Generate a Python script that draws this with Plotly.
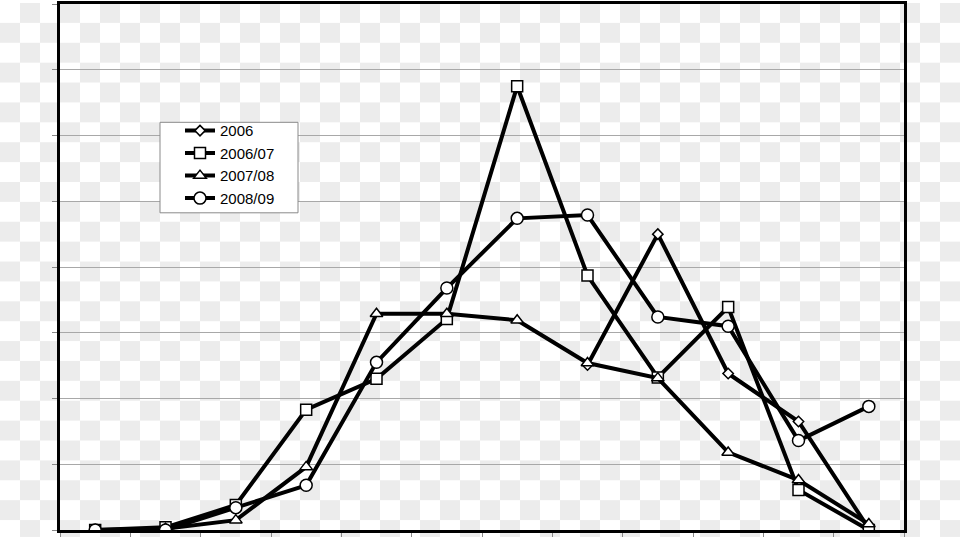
import base64
import plotly.graph_objects as go

# ---- data ----
periods = ["1", "2", "3", "4", "5", "6", "7", "8", "9", "10", "11", "12"]
s2006 = [None, None, None, None, None, None, None, 2.51, 4.50, 2.38, 1.65, 0.02]
s2006_07 = [0.0, 0.04, 0.38, 1.83, 2.30, 3.21, 6.75, 3.87, 2.32, 3.39, 0.61, 0.0]
s2007_08 = [0.0, 0.02, 0.15, 0.96, 3.29, 3.29, 3.19, 2.54, 2.31, 1.18, 0.76, 0.09]
s2008_09 = [0.0, 0.0, 0.34, 0.68, 2.55, 3.68, 4.74, 4.79, 3.24, 3.10, 1.36, 1.88]

series_names = ["2006", "2006/07", "2007/08", "2008/09"]
series_values = [s2006, s2006_07, s2007_08, s2008_09]
series_symbols = ["diamond", "square", "triangle-up", "circle"]
series_sizes = [8, 11, 11, 12]

W, H = 960, 537
ML, MR, MT, MB = 60, 56, 1, 7
PW, PH = W - ML - MR, H - MT - MB

fig = go.Figure()
for name, vals, sym, sz in zip(series_names, series_values, series_symbols, series_sizes):
    fig.add_trace(go.Scatter(
        x=periods, y=vals, name=name, mode="lines+markers",
        connectgaps=False,
        line=dict(color="black", width=4),
        marker=dict(symbol=sym, size=sz, color="white",
                    line=dict(color="black", width=1.5)),
    ))

# checkerboard background (transparent-PNG look of the reference)
svg = (
    f"<svg xmlns='http://www.w3.org/2000/svg' width='{W}' height='{H}'>"
    "<defs><pattern id='p' width='40' height='40' patternUnits='userSpaceOnUse'>"
    "<rect width='40' height='40' fill='#ffffff'/>"
    "<rect x='20' y='0' width='20' height='20' fill='#ececec'/>"
    "<rect x='0' y='20' width='20' height='20' fill='#ececec'/>"
    "</pattern></defs>"
    f"<rect width='{W}' height='{H}' fill='url(#p)'/></svg>"
)
uri = "data:image/svg+xml;base64," + base64.b64encode(svg.encode()).decode()
fig.add_layout_image(dict(
    source=uri, xref="paper", yref="paper",
    x=-ML / PW, y=1 + MT / PH, sizex=W / PW, sizey=H / PH,
    xanchor="left", yanchor="top", sizing="stretch", layer="below",
))

# legend box
lx0, lx1, ly0, ly1 = 160, 298, 120, 211
fig.add_shape(
    type="rect", xref="paper", yref="paper",
    x0=(lx0 - ML) / PW, x1=(lx1 - ML) / PW,
    y0=(H - MB - ly1) / PH, y1=(H - MB - ly0) / PH,
    line=dict(color="#8a8a8a", width=1), fillcolor="white", layer="above",
)

fig.update_layout(
    width=W, height=H,
    margin=dict(l=ML, r=MR, t=MT, b=MB, pad=0),
    paper_bgcolor="white",
    plot_bgcolor="rgba(0,0,0,0)",
    font=dict(family="Liberation Sans, Arial, sans-serif", size=15, color="black"),
    showlegend=True,
    legend=dict(
        x=(180 - ML) / PW, y=(H - MB - 112) / PH, xanchor="left", yanchor="top",
        bgcolor="rgba(0,0,0,0)", borderwidth=0,
        font=dict(family="Liberation Sans, Arial, sans-serif", size=15, color="black"),
        itemclick=False,
    ),
    xaxis=dict(
        type="category", range=[-0.5, 11.5], tickson="boundaries",
        showgrid=False, zeroline=False, showticklabels=False,
        ticks="outside", ticklen=4, tickcolor="#888888", tickwidth=1,
        showline=True, linecolor="black", linewidth=3, mirror=True,
    ),
    yaxis=dict(
        range=[0, 8], dtick=1, tick0=0,
        showgrid=True, gridcolor="#a8a8a8", gridwidth=1,
        zeroline=False, showticklabels=False,
        ticks="outside", ticklen=5, tickcolor="#888888", tickwidth=1,
        showline=True, linecolor="black", linewidth=3, mirror=True,
    ),
)

fig.write_html("out.html")
